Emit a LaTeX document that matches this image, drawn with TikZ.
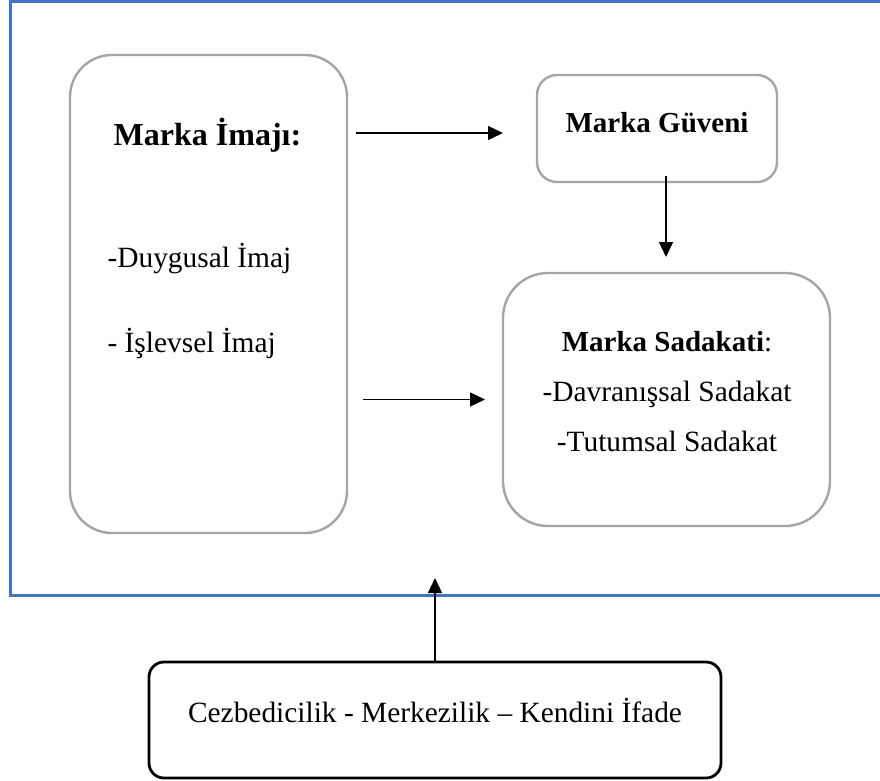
\documentclass[tikz,border=0pt]{standalone}
\usepackage{fontspec}
\setmainfont{Liberation Serif}
\usetikzlibrary{arrows.meta}
\definecolor{wordblue}{RGB}{68,114,196}
\definecolor{kutugri}{RGB}{165,165,165}
\begin{document}
\begin{tikzpicture}[
x=1pt,y=-1pt,
cerceve/.style={
draw=wordblue,
line width=3pt,
inner sep=0pt,
outer sep=0pt,
},
kutu/.style={%
draw=kutugri,
line width=2.4pt,
inner sep=0pt,
outer sep=0pt,
},
altkutu/.style={%
draw=black,
line width=2.8pt,
rounded corners=15pt,
inner sep=0pt,
outer sep=0pt,
},
baslik/.style={%
font=\fontsize{29}{34}\selectfont\bfseries,
anchor=base,
},
madde/.style={%
font=\fontsize{29.4}{34}\selectfont,
anchor=base,
},
ok/.style={
-{Triangle[length=15pt,width=14pt]},
line width=1.3pt,
}
]

%\draw[help lines](0,0)grid(880,780);
\useasboundingbox(0,0)rectangle(880,780);

\node[cerceve,minimum width=874pt,minimum height=594pt]
(cerceve)at(447.5,298){};

%Marka imaji
\node[kutu,rounded corners=42pt,minimum width=277pt,minimum height=478pt]
(imaj)at(208.5,294){};
\node[baslik,font=\fontsize{32}{38}\selectfont\bfseries](imajbaslik)at(207.5,145){Marka İmajı:};
\node[madde,anchor=base west](duygusal)at(104,267){-Duygusal İmaj};
\node[madde,anchor=base west](islevsel)at(104,352){- İşlevsel İmaj};

%Marka guveni
\node[kutu,rounded corners=20pt,minimum width=240pt,minimum height=107pt]
(guven)at(657,128.5){};
\node[baslik](guvenbaslik)at(657,132){Marka Güveni};

%Marka sadakati
\node[kutu,rounded corners=45pt,minimum width=327pt,minimum height=253pt]
(sadakat)at(666.5,399.5){};
\node[baslik](sadakatbaslik)at(667,351.5){Marka Sadakati\mdseries:};
\node[madde](davranissal)at(667,401){-Davranışsal Sadakat};
\node[madde](tutumsal)at(667,451){-Tutumsal Sadakat};

%alt kutu
\node[altkutu,minimum width=572pt,minimum height=116pt]
(ifade)at(435,720){};
\node[madde](ifadeyazi)at(435,722){Cezbedicilik - Merkezilik – Kendini İfade};

\coordinate(g1)at([yshift=-4.5pt]guven.west);
\coordinate(g2)at([xshift=9pt]guven.south);
\draw[ok,shorten <=9pt,shorten >=34pt](imaj.east|-g1)--(g1);
\draw[ok,shorten <=-6pt,shorten >=16pt](g2)--(g2|-sadakat.north);
\draw[ok,shorten <=16pt,shorten >=18pt](imaj.east|-sadakat.west)--(sadakat.west);
\draw[ok,shorten >=-17pt](ifade.north)--(ifade.north|-cerceve.south);

\end{tikzpicture}
\end{document}
